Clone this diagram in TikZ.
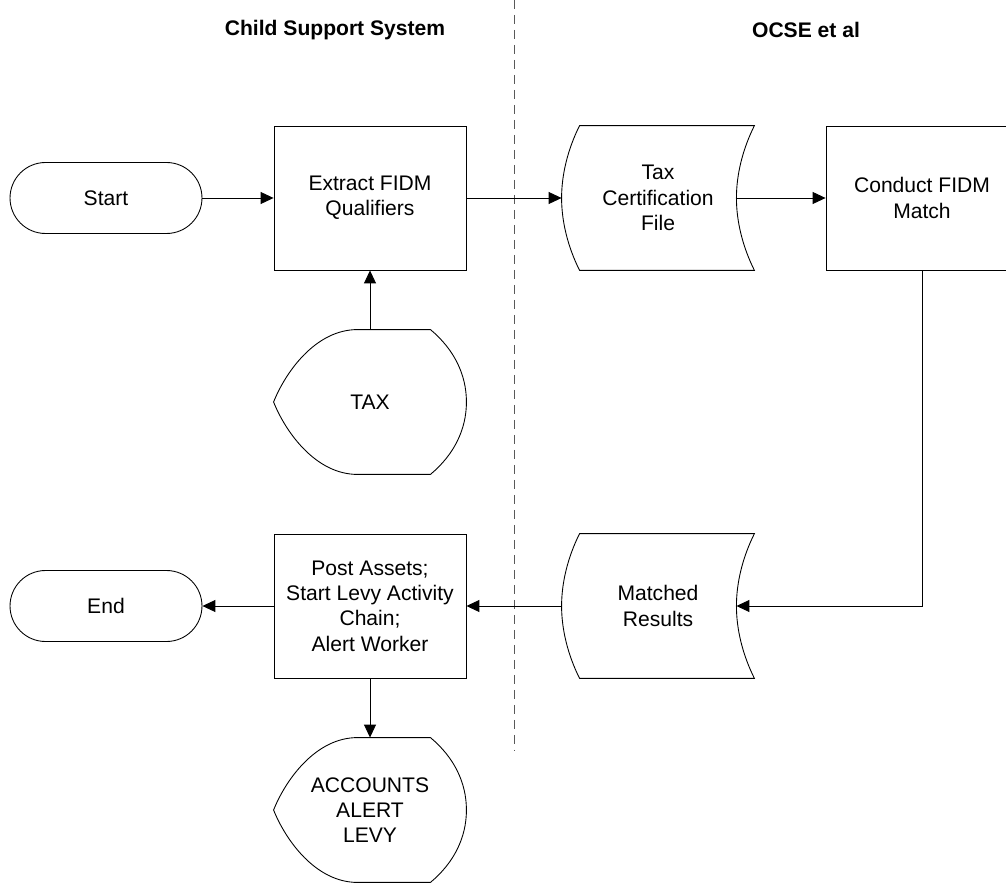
\documentclass[tikz,border=0pt]{standalone}
\usepackage{fontspec}
\setmainfont{Liberation Sans}
\usetikzlibrary{arrows.meta,calc,positioning}

% stored data outline round a node
\newcommand{\datafile}[1]{%
  \draw ($(#1.north west)+(18,0)$) -- (#1.north east)
    .. controls +(-12,24) and +(0,-23) .. ($(#1.east)+(-18,0)$)
    .. controls +(0,23) and +(-12,-24) .. (#1.south east)
    -- ($(#1.south west)+(18,0)$)
    .. controls +(-12,-24) and +(0,23) .. (#1.west)
    .. controls +(0,-23) and +(-12,24) .. cycle;}
% display outline round a node
\newcommand{\displayshape}[1]{%
  \draw ($(#1.north west)+(84,0)$) -- ($(#1.north east)+(-36,0)$)
    .. controls +(24,20) and +(0,-27) .. (#1.east)
    .. controls +(0,27) and +(24,-20) .. ($(#1.south east)+(-36,0)$)
    -- ($(#1.south west)+(84,0)$)
    .. controls +(-42,0) and +(12,30) .. (#1.west)
    .. controls +(12,-30) and +(-42,0) .. cycle;}

\begin{document}
\begin{tikzpicture}[x=0.02cm,y=-0.02cm,line width=0.5pt,
  font=\fontsize{12}{14.4}\selectfont,
  box/.style={draw,minimum width=3.84cm,minimum height=2.88cm,align=center,inner sep=0pt},
  plain/.style={minimum width=3.84cm,minimum height=2.88cm,align=center,inner sep=0pt},
  term/.style={draw,rounded corners=0.71cm,minimum width=3.84cm,minimum height=1.42cm},
  title/.style={font=\fontsize{12}{14.4}\selectfont\bfseries},
  arr/.style={-{Triangle[length=0.26cm,width=0.24cm]}}]
  \clip (0,0) rectangle (1006,884);

  % lanes
  \node[title] (css) at (335,30) {Child Support System};
  \node[title] (ocse) at (806,30) {OCSE et al};
  \draw[gray!70!black,line width=0.5pt,dash pattern=on 0.18cm off 0.12cm] (514,0) -- (514,750);

  % top row
  \node[term] (start) at (106,198) {Start};
  \node[box] (extract) at (370,198) {Extract FIDM\\Qualifiers};
  \node[plain] (tax) at (370,402) {TAX};
  \displayshape{tax}
  \node[plain] (taxfile) at (658,198) {Tax\\Certification\\File};
  \datafile{taxfile}
  \node[box] (match) at (922,198) {Conduct FIDM\\Match};

  % bottom row
  \node[plain] (results) at (658,606) {Matched\\Results};
  \datafile{results}
  \node[box] (post) at (370,606) {Post Assets;\\Start Levy Activity\\Chain;\\Alert Worker};
  \node[term] (end) at (106,606) {End};
  \node[plain] (accounts) at (370,810) {ACCOUNTS\\ALERT\\LEVY};
  \displayshape{accounts}

  \draw[arr] (start) -- (extract);
  \draw[arr] (tax) -- (extract);
  \draw[arr] (extract) -- (taxfile);
  \draw[arr] ($(taxfile.east)+(-18,0)$) -- (match);
  \draw[arr] (match.south) |- ($(results.east)+(-18,0)$);
  \draw[arr] (results) -- (post);
  \draw[arr] (post) -- (end);
  \draw[arr] (post) -- (accounts);
\end{tikzpicture}
\end{document}
